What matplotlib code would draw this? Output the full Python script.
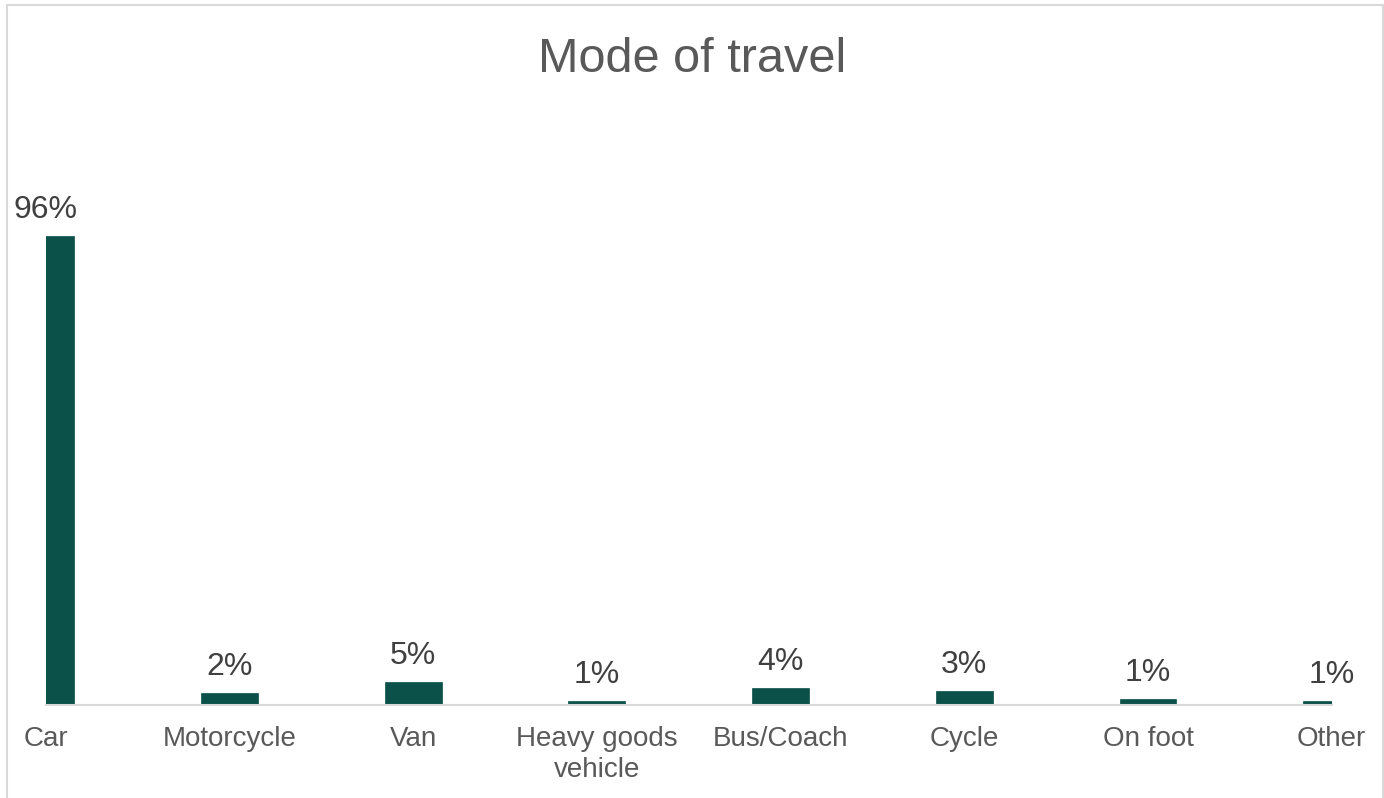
import matplotlib
matplotlib.use("Agg")
import matplotlib.pyplot as plt
from matplotlib.patches import Rectangle

categories = ["Car", "Motorcycle", "Van", "Heavy goods\nvehicle", "Bus/Coach", "Cycle", "On foot", "Other"]
values = [96, 2.4, 4.7, 0.8, 3.5, 2.9, 1.2, 0.9]
value_labels = ["96%", "2%", "5%", "1%", "4%", "3%", "1%", "1%"]
title = "Mode of travel"

plt.rcParams['font.family'] = ['Liberation Sans', 'DejaVu Sans']

W, H = 1384, 798
fig = plt.figure(figsize=(W / 100, H / 100), dpi=100)
fig.patch.set_facecolor("white")

# figure border
fig.patches.append(Rectangle((7 / W, -0.02), (1383 - 7) / W, 1.02 - 5 / H,
                             transform=fig.transFigure, fill=False,
                             edgecolor="#D9D9D9", linewidth=1.5))

left, right = 45.8 / W, 1331.7 / W
bottom = (H - 705) / H
top = 1 - 119 / H
ax = fig.add_axes([left, bottom, right - left, top - bottom])

x = list(range(len(categories)))
ax.bar(x, values, width=0.31, color="#0B5049", edgecolor="#0B5049", linewidth=0.5)
ax.set_xlim(0, len(categories) - 1)
ax.set_ylim(0, 120)

for xi, v, lab in zip(x, values, value_labels):
    ax.annotate(lab, (xi, v), xytext=(0, 18 * 0.72), textcoords="offset points",
                ha="center", va="baseline", fontsize=23, color="#404040",
                annotation_clip=False)

for s in ["top", "right", "left"]:
    ax.spines[s].set_visible(False)
ax.spines["bottom"].set_color("#D9D9D9")
ax.spines["bottom"].set_linewidth(1.5)
ax.set_yticks([])
ax.set_xticks(x)
ax.set_xticklabels(categories, fontsize=20, color="#595959", linespacing=1.25)
ax.tick_params(axis="x", length=0, pad=15)

fig.text(0.5, 1 - 72 / H, title, ha="center", va="baseline", fontsize=35, color="#595959")

fig.savefig("out.png", dpi=100)
